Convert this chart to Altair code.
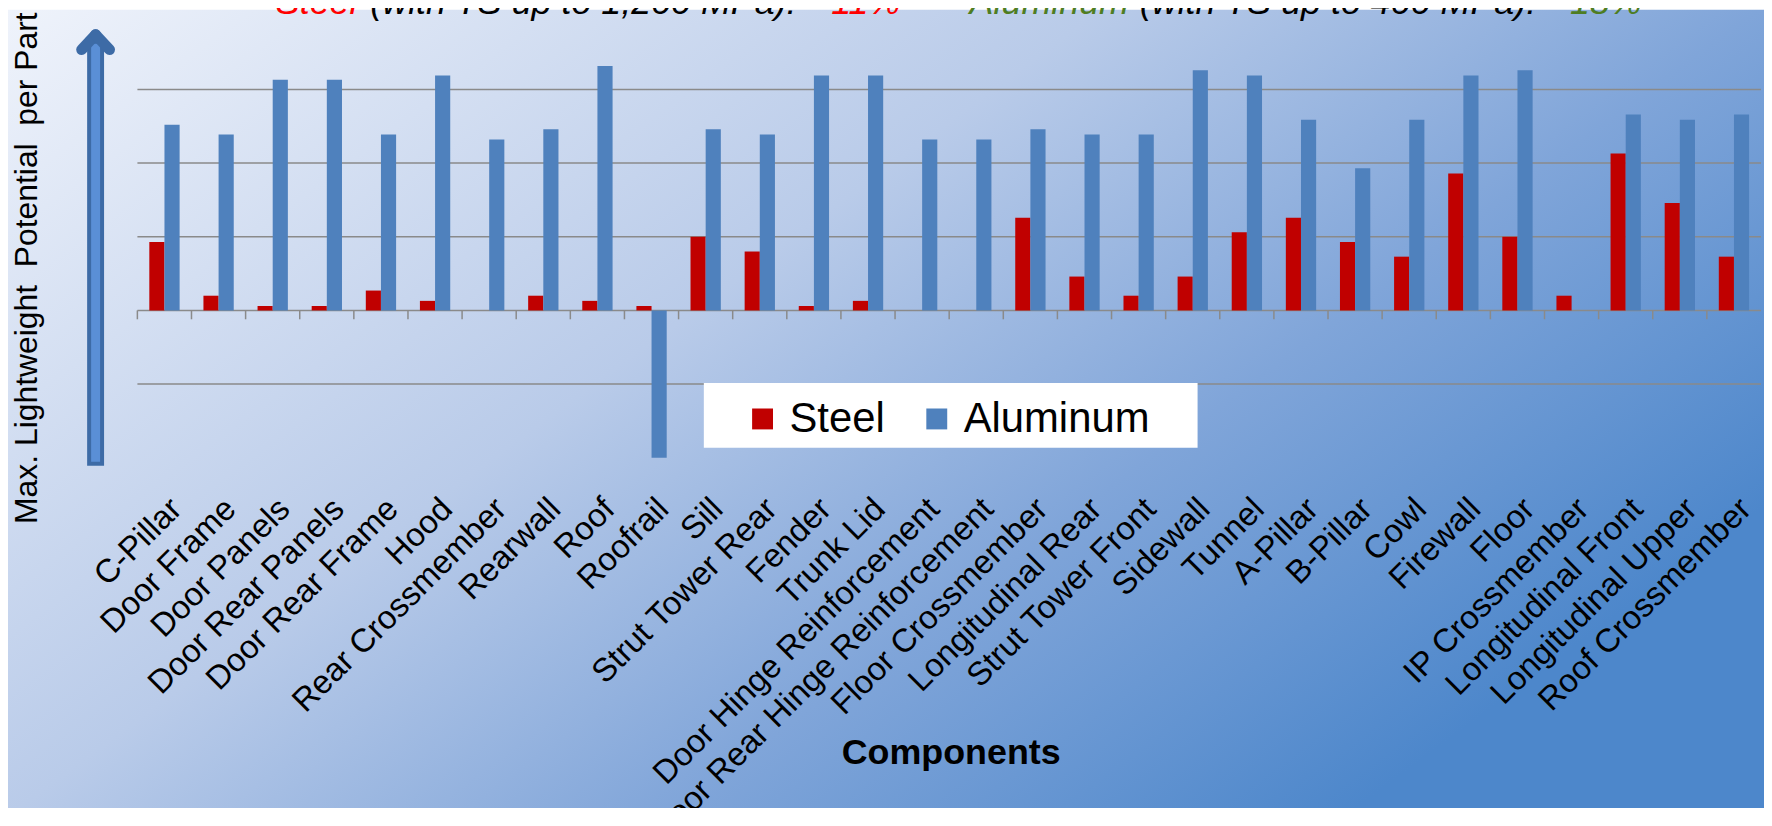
import altair as alt
import pandas as pd

# ---------------- data ----------------
components = [
    "C-Pillar", "Door Frame", "Door Panels", "Door Rear Panels", "Door Rear Frame",
    "Hood", "Rear Crossmember", "Rearwall", "Roof", "Roofrail", "Sill",
    "Strut Tower Rear", "Fender", "Trunk Lid", "Door Hinge Reinforcement",
    "Door Rear Hinge Reinforcement", "Floor Crossmember", "Longitudinal Rear",
    "Strut Tower Front", "Sidewall", "Tunnel", "A-Pillar", "B-Pillar", "Cowl",
    "Firewall", "Floor", "IP Crossmember", "Longitudinal Front",
    "Longitudinal Upper", "Roof Crossmember",
]
steel = [9.3, 2.0, 0.6, 0.6, 2.7, 1.3, None, 2.0, 1.3, 0.6, 10.0, 8.0, 0.6, 1.3,
         None, None, 12.6, 4.6, 2.0, 4.6, 10.6, 12.6, 9.3, 7.3, 18.6, 10.0, 2.0,
         21.3, 14.6, 7.3]
aluminum = [25.2, 23.9, 31.3, 31.3, 23.9, 31.9, 23.2, 24.6, 33.2, -20.0, 24.6,
            23.9, 31.9, 31.9, 23.2, 23.2, 24.6, 23.9, 23.9, 32.6, 31.9, 25.9,
            19.3, 25.9, 31.9, 32.6, None, 26.6, 25.9, 26.6]
materials = ["Steel", "Aluminum"]
grid_values = [-10, 0, 10, 20, 30]
y_domain = [-20, 40]

title_parts = ["Steel", "(with TS up to 1,200 MPa):", "11%",
               "Aluminum", "(with TS up to 400 MPa):", "18%"]
y_title = "Max. Lightweight\u00a0 Potential\u00a0 per Part"
x_title = "Components"

# ---------------- styles ----------------
material_colors = ["#c00000", "#4f81bd"]
title_colors = ["#ff0000", "#000000", "#ff0000", "#4e7d22", "#000000", "#4e7d22"]
title_x = [139, 234, 697, 836, 1007, 1439]
FONT = "Liberation Sans"
W, H = 1631, 444

rows = []
for c, s, a in zip(components, steel, aluminum):
    if s is not None:
        rows.append({"component": c, "material": "Steel", "value": s})
    if a is not None:
        rows.append({"component": c, "material": "Aluminum", "value": a})
bars_df = pd.DataFrame(rows)
comp_df = pd.DataFrame({"component": components})
grid_df = pd.DataFrame({"g": grid_values})
one = pd.DataFrame({"k": [0]})

xscale = alt.Scale(domain=components, paddingInner=0.44, paddingOuter=0.22)
yscale = alt.Scale(domain=y_domain, nice=False, zero=False)

background = alt.Chart(one).mark_rect(
    fill=alt.Gradient(
        gradient="linear", x1=0, y1=0, x2=1, y2=0.62,
        stops=[
            alt.GradientStop(color="#eff3fb", offset=0),
            alt.GradientStop(color="#b9cbe9", offset=0.45),
            alt.GradientStop(color="#80a5d9", offset=0.72),
            alt.GradientStop(color="#4d87cb", offset=1),
        ],
    )
).encode(x=alt.value(-130), x2=alt.value(W + 3), y=alt.value(-6), y2=alt.value(800))

grid = alt.Chart(grid_df).mark_rule(color="#8a8a8a", strokeWidth=1.5).encode(
    y=alt.Y("g:Q", scale=yscale)
)

ticks = alt.Chart(comp_df).mark_rule(color="#8a8a8a", strokeWidth=1.5, xOffset=-12).encode(
    x=alt.X("component:N", scale=xscale, bandPosition=0, sort=components,
            axis=alt.Axis(
                title=x_title, titleFontSize=36, titleFontWeight="bold",
                titleFont=FONT, titleColor="black", titleX=817, titleY=307,
                titleAlign="center", titleBaseline="alphabetic", titleAngle=0,
                labelAngle=-45, labelAlign="right", labelBaseline="middle",
                labelFontSize=33, labelFont=FONT, labelColor="black",
                labelPadding=46, labelOffset=12, labelLimit=1000,
                labelOverlap=False, domain=False, ticks=False, grid=False,
                zindex=1,
            )),
    y=alt.datum(0, scale=yscale),
    y2=alt.datum(-1.2),
)

bars = alt.Chart(bars_df).mark_bar().encode(
    x=alt.X("component:N", scale=xscale, sort=components),
    xOffset=alt.XOffset("material:N", sort=materials),
    y=alt.Y("value:Q", scale=yscale,
            axis=alt.Axis(
                title=y_title, titleFontSize=32,
                titleFont=FONT, titleFontWeight="normal", titleColor="black",
                titleX=-111, titleY=253, titleAngle=270, titleAlign="center",
                titleBaseline="middle", titleLimit=1000,
                labels=False, ticks=False, domain=False, grid=False, zindex=1,
            )),
    color=alt.Color("material:N", scale=alt.Scale(domain=materials, range=material_colors),
                    legend=alt.Legend(
                        orient="none", legendX=607, legendY=384, direction="horizontal",
                        title=None, labelFontSize=42, labelFont=FONT, labelColor="black",
                        labelLimit=1000,
                        symbolType="square", symbolSize=441, symbolStrokeWidth=0,
                        symbolOpacity=1, labelOffset=6, columnPadding=31, padding=0,
                    )),
)

legend_box = alt.Chart(one).mark_rect(fill="white").encode(
    x=alt.value(569), x2=alt.value(1065), y=alt.value(369), y2=alt.value(434)
)

arrow_layers = [
    alt.Chart(one).mark_rule(color="#3d6ba6", strokeWidth=17).encode(
        x=alt.value(-42), y=alt.value(452), y2=alt.value(24)),
    alt.Chart(one).mark_rule(color="#5a8fd6", strokeWidth=9).encode(
        x=alt.value(-42), y=alt.value(448), y2=alt.value(28)),
    alt.Chart(one).mark_rule(color="#3d6ba6", strokeWidth=11, strokeCap="round").encode(
        x=alt.value(-56), y=alt.value(34), x2=alt.value(-42), y2=alt.value(19)),
    alt.Chart(one).mark_rule(color="#3d6ba6", strokeWidth=11, strokeCap="round").encode(
        x=alt.value(-42), y=alt.value(19), x2=alt.value(-28), y2=alt.value(34)),
]

title_layers = []
for part, col, px in zip(title_parts, title_colors, title_x):
    title_layers.append(
        alt.Chart(one).mark_text(
            font=FONT, fontSize=36, fontStyle="italic", color=col,
            align="left", baseline="alphabetic",
        ).encode(x=alt.value(px), y=alt.value(-2), text=alt.value(part))
    )

chart = alt.layer(
    background, grid, ticks, bars, legend_box, *arrow_layers, *title_layers
).properties(
    width=W, height=H,
    autosize=alt.AutoSizeParams(type="none"),
    padding={"left": 130, "top": 6, "right": 3, "bottom": 350},
).configure_view(
    stroke="black", strokeWidth=2
).configure(font=FONT)

chart.save("out.html", embed_options={"renderer": "svg", "actions": False})
